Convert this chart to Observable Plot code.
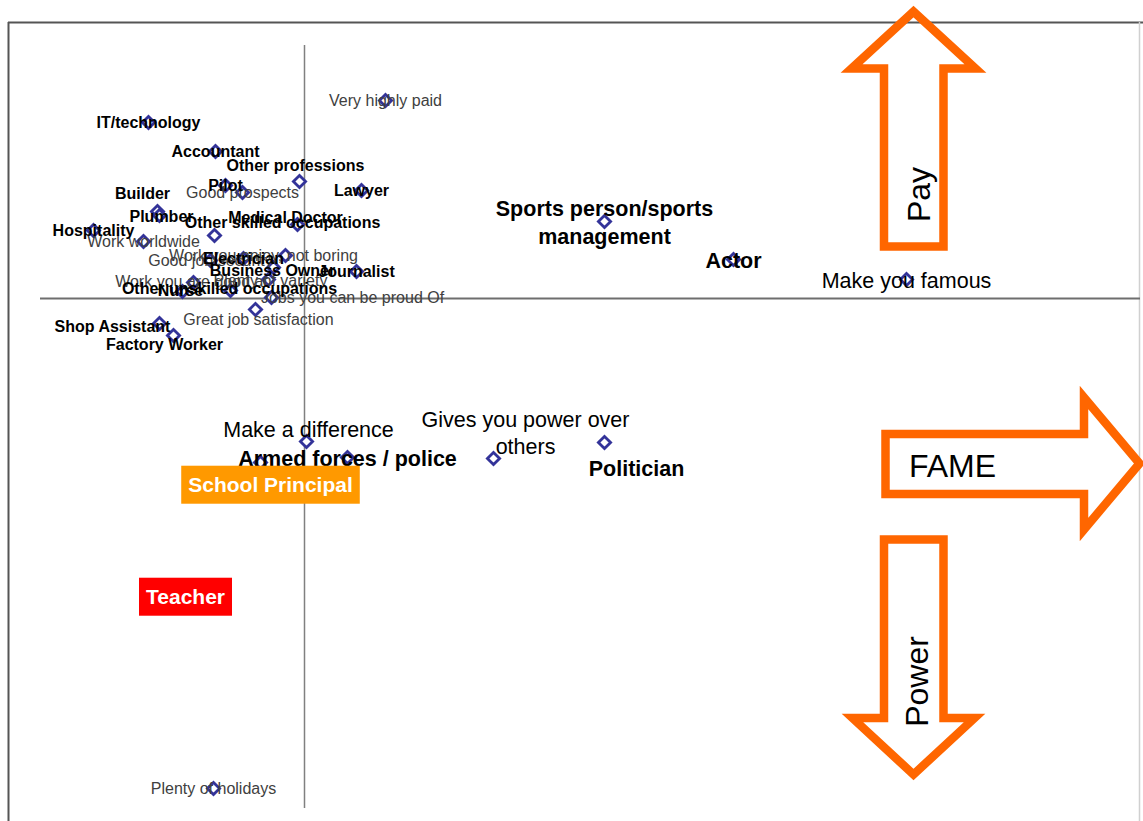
<!DOCTYPE html>
<html><head><meta charset="utf-8">
<script src="https://cdn.jsdelivr.net/npm/d3@7"></script>
<script src="https://cdn.jsdelivr.net/npm/@observablehq/plot@0.6"></script>
<style>body{margin:0;background:#fff;} #chart svg{overflow:visible;display:block}</style>
</head><body><div id="chart"></div>
<script>
// ---- data: perceptual map (x = fame, y = pay (+) / power (-)) ----
const labels = [
  "IT/technology","Accountant","Other professions","Pilot","Lawyer","Builder","Plumber",
  "Medical Doctor","Other skilled occupations","Hospitality","Electrician","Business Owner",
  "Journalist","Nurse","Other unskilled occupations","Shop Assistant","Factory Worker",
  "Sports person/sports\nmanagement","Actor","Armed forces / police","Politician",
  "School Principal","Teacher",
  "Very highly paid","Good prospects","Work worldwide","Work you enjoy, not boring",
  "Good job security","Plenty of variety","Work you are good at","Jobs you can be proud Of",
  "Great job satisfaction","Make a difference","Gives you power over\nothers",
  "Make you famous","Plenty of holidays"
];
const fame = [
  -1.56,-0.89,-0.05,-0.79,0.57,-1.47,-1.45,
  -0.07,-0.90,-2.11,-0.61,-0.31,
  0.52,-1.22,-0.74,-1.45,-1.31,
  3.00,4.29,0.43,3.00,
  -0.44,-1.19,
  0.81,-0.62,-1.61,-0.19,
  -0.94,-0.36,-1.11,-0.33,
  -0.49,0.02,1.89,
  6.02,-0.91
];
const pay = [
  1.76,1.47,1.17,1.13,1.08,0.87,0.83,
  0.74,0.63,0.68,0.40,0.31,
  0.27,0.07,0.08,-0.25,-0.37,
  0.77,0.39,-1.59,-1.44,
  -1.64,-2.99,
  1.98,1.06,0.57,0.43,
  0.38,0.19,0.16,0.01,
  -0.11,-1.43,-1.60,
  0.19,-4.90
];
const group = [
  "job","job","job","job","job","job","job",
  "job","job","job","job","job",
  "job","job","job","job","job",
  "jobBig","jobBig","jobBig","jobBig",
  "principal","teacher",
  "attr","attr","attr","attr",
  "attr","attr","attr","attr",
  "attr","attrBig","attrBig",
  "attrBig","attr"
];
const arrowWords = ["Pay","FAME","Power"];

// ---- layout (pixels) ----
const W = 1143, H = 821, originX = 304, originY = 298, unit = 100;
const X = px => (px - originX) / unit;
const Y = py => (originY - py) / unit;
// label offsets in px relative to marker
const labelOffset = {
  "Other professions":[-4,-16], "Builder":[-15,-18], "Plumber":[2,1], "Medical Doctor":[-12,-7],
  "Other skilled occupations":[68,-13], "Business Owner":[-1,3], "Nurse":[-2,-1],
  "Other unskilled occupations":[-1,-2], "Shop Assistant":[-47,3], "Factory Worker":[-9,9],
  "Politician":[32,25], "School Principal":[10,23],
  "Work you enjoy, not boring":[-22,0], "Plenty of variety":[2,1], "Work you are good at":[-2,-1],
  "Jobs you can be proud Of":[81,0], "Great job satisfaction":[3,10],
  "Make a difference":[2,-13], "Gives you power over\nothers":[32,-27]
};
const boxFill = {principal:"#FF9900", teacher:"#FF0000"};

const rows = labels.map((name,i)=>({name, fame:fame[i], pay:pay[i], group:group[i]}));
const lx = d => d.fame + (labelOffset[d.name]?.[0] ?? 0) / unit;
const ly = d => d.pay - (labelOffset[d.name]?.[1] ?? 0) / unit;

// arrow outlines (centre of orange stroke), px
const arrows = [
  {id:"pay", pts:[[913,246],[943,246],[943,68],[975,68],[913,11],[851,68],[883.5,68],[883.5,246],[913,246]]},
  {id:"fame", pts:[[885,463],[885,433.5],[1083.5,433.5],[1083.5,397],[1139,463],[1083.5,529],[1083.5,493.5],[885,493.5],[885,463]]},
  {id:"power", pts:[[913,539],[943,539],[943,717.5],[974,717.5],[913,774],[852,717.5],[883.5,717.5],[883.5,539],[913,539]]}
];
const arrowPts = arrows.flatMap(a => a.pts.map(([x,y]) => ({id:a.id, x:X(x), y:Y(y)})));
const arrowText = [
  {t:arrowWords[0], x:X(919), y:Y(194), r:-90},
  {t:arrowWords[1], x:X(952), y:Y(466), r:0},
  {t:arrowWords[2], x:X(917), y:Y(681), r:-90}
];

const font = "'Liberation Sans', Arial, sans-serif";
const boxedRows = rows.filter(d=>d.group==="principal"||d.group==="teacher");
const chart = Plot.plot({
  width: W, height: H, margin: 0,
  x: {domain: [X(0), X(W)], axis: null},
  y: {domain: [Y(H), Y(0)], axis: null},
  style: {fontFamily: font, background: "white", overflow: "visible"},
  marks: [
    // frame
    Plot.ruleX([X(8)], {y1: Y(22), y2: Y(H), stroke: "#555", strokeWidth: 2}),
    Plot.ruleY([Y(22)], {x1: X(8), x2: X(W), stroke: "#555", strokeWidth: 2}),
    Plot.ruleX([X(1139)], {y1: Y(22), y2: Y(H), stroke: "#d0d0d0", strokeWidth: 1.5}),
    // axes
    Plot.ruleX([0], {y1: Y(45), y2: Y(808), stroke: "#808080", strokeWidth: 1.5}),
    Plot.ruleY([0], {x1: X(40), x2: X(1140), stroke: "#6e6e6e", strokeWidth: 2}),
    // arrows
    Plot.line(arrowPts, {x: "x", y: "y", z: "id", stroke: "#FF6600", strokeWidth: 8.5,
      strokeLinejoin: "miter", strokeMiterlimit: 10}),
    Plot.text(arrowText.filter(d=>d.r===0), {x:"x", y:"y", text:"t", fontSize: 32, fill: "black"}),
    Plot.text(arrowText.filter(d=>d.r!==0), {x:"x", y:"y", text:"t", fontSize: 32, fill: "black", rotate: -90}),
    // markers
    Plot.dot(rows, {x: "fame", y: "pay", symbol: "diamond2", r: 5.5, stroke: "#333399",
      strokeWidth: 2.8, fill: "white"}),
    // labels
    Plot.text(rows.filter(d=>d.group==="attr"), {x: lx, y: ly, text: "name", fontSize: 16, fill: "#404040"}),
    Plot.text(rows.filter(d=>d.group==="attrBig"), {x: lx, y: ly, text: "name", fontSize: 21.5, fill: "black", lineHeight: 1.28}),
    Plot.text(rows.filter(d=>d.group==="job"), {x: lx, y: ly, text: "name", fontSize: 16, fontWeight: "bold", fill: "black"}),
    Plot.text(rows.filter(d=>d.group==="jobBig"), {x: lx, y: ly, text: "name", fontSize: 21.5, fontWeight: "bold", fill: "black", lineHeight: 1.3}),
    Plot.text(boxedRows, {x: lx, y: ly, text: "name", fontSize: 21, fontWeight: "bold", fill: "white"})
  ]
});
document.getElementById("chart").append(chart);

// coloured boxes behind the highlighted labels
const ns = "http://www.w3.org/2000/svg";
chart.querySelectorAll("text").forEach(t => {
  const row = boxedRows.find(d => d.name === t.textContent);
  if (!row) return;
  const b = t.getBBox();
  const r = document.createElementNS(ns, "rect");
  r.setAttribute("x", b.x - 7);
  r.setAttribute("width", b.width + 14);
  r.setAttribute("y", b.y + b.height / 2 - 19);
  r.setAttribute("height", 38);
  r.setAttribute("fill", boxFill[row.group]);
  if (t.getAttribute("transform")) r.setAttribute("transform", t.getAttribute("transform"));
  t.parentNode.insertBefore(r, t);
});
</script>
</body></html>
